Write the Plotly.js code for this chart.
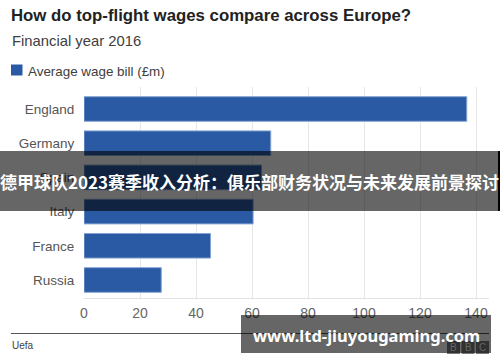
<!DOCTYPE html>
<html>
<head>
<meta charset="utf-8">
<script src="https://cdn.plot.ly/plotly-3.0.1.min.js"></script>
<style>html,body{margin:0;padding:0;background:#fff;}#chart{width:500px;height:362px;}</style>
</head>
<body>
<div id="chart"></div>
<script>
// ---- data ----
const countries = ["England", "Germany", "Spain", "Italy", "France", "Russia"];
const wageBill = [136.7, 66.7, 63.4, 60.4, 45.2, 27.6];
const xTicks = [0, 20, 40, 60, 80, 100, 120, 140];
const seriesName = "Average wage bill (£m)";
const titleText = "How do top-flight wages compare across Europe?";
const subtitleText = "Financial year 2016";
const sourceText = "Uefa";
const bannerText = "德甲球队2023赛季收入分析：俱乐部财务状况与未来发展前景探讨";
const urlText = "www.ltd-jiuyougaming.com";

// ---- layout helpers (pixel -> paper) ----
const W = 500, H = 362, L = 84, R = 11, T = 87, B = 64;
const PW = W - L - R, PH = H - T - B;
const px = v => (v - L) / PW;
const py = v => (H - B - v) / PH;

const barColor = "#2a5aa4";
const font = "Liberation Sans, Arial, sans-serif";

const trace = {
  type: "bar",
  orientation: "h",
  x: wageBill,
  y: countries,
  name: seriesName,
  marker: {color: barColor, line: {color: "#86a5d3", width: 1}},
  hoverinfo: "x+y",
  showlegend: false
};

const shapes = [
  // legend swatch
  {type: "rect", xref: "paper", yref: "paper", x0: px(11), x1: px(22.5), y0: py(64.5), y1: py(75.5),
   fillcolor: barColor, line: {width: 0}, layer: "above"},
  // source rule
  {type: "line", xref: "paper", yref: "paper", x0: px(11), x1: px(489), y0: py(333.5), y1: py(333.5),
   line: {color: "#555", width: 1}, layer: "above"},
  // BBC blocks
  {type: "rect", xref: "paper", yref: "paper", x0: px(447), x1: px(460), y0: py(341), y1: py(354), fillcolor: "#7a7a7a", line: {width: 0}, layer: "above"},
  {type: "rect", xref: "paper", yref: "paper", x0: px(461.5), x1: px(474.5), y0: py(341), y1: py(354), fillcolor: "#7a7a7a", line: {width: 0}, layer: "above"},
  {type: "rect", xref: "paper", yref: "paper", x0: px(476), x1: px(489), y0: py(341), y1: py(354), fillcolor: "#7a7a7a", line: {width: 0}, layer: "above"},
  // middle banner overlay
  {type: "rect", xref: "paper", yref: "paper", x0: px(0), x1: px(498), y0: py(151), y1: py(211),
   fillcolor: "rgba(0,0,0,0.6)", line: {width: 0}, layer: "above"},
  {type: "rect", xref: "paper", yref: "paper", x0: px(498), x1: px(500), y0: py(151), y1: py(211),
   fillcolor: "#000", line: {width: 0}, layer: "above"},
  // url box overlay
  {type: "rect", xref: "paper", yref: "paper", x0: px(241), x1: px(491), y0: py(315), y1: py(353),
   fillcolor: "rgba(0,0,0,0.6)", line: {width: 0}, layer: "above"}
];

const annotations = [
  {xref: "paper", yref: "paper", x: px(9.5), y: py(41), xanchor: "left", yanchor: "middle",
   text: subtitleText, showarrow: false, font: {family: font, size: 14.8, color: "#404040"}},
  {xref: "paper", yref: "paper", x: px(26), y: py(71), xanchor: "left", yanchor: "middle",
   text: seriesName, showarrow: false, font: {family: font, size: 13.4, color: "#404040"}},
  {xref: "paper", yref: "paper", x: px(10), y: py(345), xanchor: "left", yanchor: "middle",
   text: sourceText, showarrow: false, font: {family: font, size: 10, color: "#404040"}},
  {xref: "paper", yref: "paper", x: px(453.5), y: py(347.5), xanchor: "center", yanchor: "middle",
   text: "B", showarrow: false, font: {family: font, size: 10, color: "#666"}},
  {xref: "paper", yref: "paper", x: px(468), y: py(347.5), xanchor: "center", yanchor: "middle",
   text: "B", showarrow: false, font: {family: font, size: 10, color: "#666"}},
  {xref: "paper", yref: "paper", x: px(482.5), y: py(347.5), xanchor: "center", yanchor: "middle",
   text: "C", showarrow: false, font: {family: font, size: 10, color: "#666"}},
  {xref: "paper", yref: "paper", x: px(249), y: py(181), xanchor: "center", yanchor: "middle",
   text: "<b>" + bannerText + "</b>", showarrow: false,
   font: {family: "Noto Sans CJK SC, sans-serif", size: 17, color: "#ffffff"}},
  {xref: "paper", yref: "paper", x: px(366), y: py(335), xanchor: "center", yanchor: "middle",
   text: "<b>" + urlText + "</b>", showarrow: false,
   font: {family: "Noto Sans, sans-serif", size: 16.5, color: "#ffffff"}}
];

const layout = {
  width: W, height: H,
  margin: {l: L, r: R, t: T, b: B, pad: 0},
  paper_bgcolor: "#ffffff", plot_bgcolor: "#ffffff",
  title: {text: "<b>" + titleText + "</b>", xref: "container", yref: "container",
          x: 11 / W, xanchor: "left", y: 1 - 15.5 / H, yanchor: "middle",
          font: {family: font, size: 16.8, color: "#222"}},
  showlegend: false,
  bargap: 0.28,
  xaxis: {
    range: [0, PW / 2.8], tickvals: xTicks, ticktext: xTicks.map(String),
    showgrid: true, gridcolor: "#e6e6e6", gridwidth: 1, zeroline: false,
    showline: true, linecolor: "#e3e3e3", linewidth: 1,
    ticks: "outside", ticklen: 2, tickcolor: "rgba(0,0,0,0)",
    tickfont: {family: font, size: 14, color: "#666"}, fixedrange: true
  },
  yaxis: {
    type: "category", categoryorder: "array", categoryarray: countries,
    range: [5.527, -0.643],
    showgrid: false, zeroline: false, showline: false,
    ticks: "outside", ticklen: 6, tickcolor: "rgba(0,0,0,0)",
    tickfont: {family: font, size: 13.5, color: "#555"}, fixedrange: true
  },
  shapes: shapes,
  annotations: annotations
};

Plotly.newPlot("chart", [trace], layout, {displayModeBar: false, staticPlot: true});
</script>
</body>
</html>
